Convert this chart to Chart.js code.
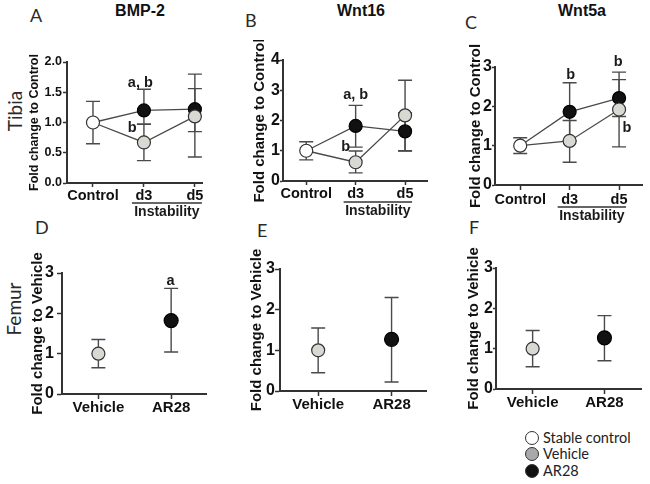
<!DOCTYPE html>
<html>
<head>
<meta charset="utf-8">
<script src="https://cdn.jsdelivr.net/npm/chart.js@4.4.1/dist/chart.umd.min.js"></script>
<style>
  body { margin: 0; width: 650px; height: 484px; background: #fff; position: relative; overflow: hidden; }
  canvas { position: absolute; }
  .t { position: absolute; white-space: nowrap; line-height: 1; color: #222; }
  .panel { font-family: Lato, sans-serif; font-size: 18px; color: #2a2a2a; }
  .gene { font-family: "Liberation Sans", Arial, sans-serif; font-weight: bold; font-size: 16px; transform: translateX(-50%); color: #111; }
  .side { font-family: Lato, sans-serif; font-size: 19px; color: #2a2a2a; transform: translate(-50%, -50%) rotate(-90deg); }
  .key { position: absolute; left: 525px; font-family: Lato, sans-serif; font-size: 14.5px; color: #222; line-height: 1; }
  .key i { display: inline-block; width: 12px; height: 12px; border-radius: 50%; border: 1px solid #333; vertical-align: -2px; margin-right: 4px; }
</style>
</head>
<body>

<div class="t panel" style="left:30px;top:6px">A</div>
<div class="t panel" style="left:245px;top:11px">B</div>
<div class="t panel" style="left:465px;top:13px">C</div>
<div class="t panel" style="left:35px;top:218px">D</div>
<div class="t panel" style="left:257px;top:221px">E</div>
<div class="t panel" style="left:469px;top:218px">F</div>

<div class="t gene" style="left:140px;top:3px">BMP-2</div>
<div class="t gene" style="left:361px;top:3px">Wnt16</div>
<div class="t gene" style="left:582px;top:3px">Wnt5a</div>

<div class="t side" style="left:14px;top:111px">Tibia</div>
<div class="t side" style="left:13px;top:309px">Femur</div>

<div class="key" style="top:431px"><i style="background:#fff"></i>Stable control</div>
<div class="key" style="top:447px"><i style="background:#a9a9a9"></i>Vehicle</div>
<div class="key" style="top:464px"><i style="background:#111"></i>AR28</div>

<script>
// categories
const tibiaGroups = ['Control', 'd3', 'd5'];
const femurGroups = ['Vehicle', 'AR28'];

// A: BMP-2, tibia (index 0 is the stable control, shared by both lines)
const bmpVehicle   = [1.00, 0.67, 1.10];
const bmpVehicleLo = [0.65, 0.37, 0.43];
const bmpVehicleHi = [1.35, 0.97, 1.56];
const bmpAR28      = [1.00, 1.20, 1.22];
const bmpAR28Lo    = [null, 0.97, 0.85];
const bmpAR28Hi    = [null, 1.55, 1.80];

// B: Wnt16, tibia
const w16Vehicle   = [1.00, 0.62, 2.17];
const w16VehicleLo = [0.70, 0.27, 0.99];
const w16VehicleHi = [1.30, 0.99, 3.33];
const w16AR28      = [1.00, 1.82, 1.64];
const w16AR28Lo    = [null, 1.12, 1.00];
const w16AR28Hi    = [null, 2.50, 2.25];

// C: Wnt5a, tibia
const w5aVehicle   = [1.00, 1.12, 1.92];
const w5aVehicleLo = [0.80, 0.58, 0.97];
const w5aVehicleHi = [1.20, 1.64, 2.87];
const w5aAR28      = [1.00, 1.86, 2.21];
const w5aAR28Lo    = [null, 1.12, 1.74];
const w5aAR28Hi    = [null, 2.60, 2.68];

// D-F: femur, [Vehicle, AR28]
const femBmp   = [1.00, 1.82];
const femBmpLo = [0.65, 1.04];
const femBmpHi = [1.35, 2.62];
const femW16   = [1.00, 1.27];
const femW16Lo = [0.45, 0.22];
const femW16Hi = [1.55, 2.30];
const femW5a   = [1.00, 1.27];
const femW5aLo = [0.55, 0.70];
const femW5aHi = [1.45, 1.82];

// significance letters, in data units
const bmpLetters = [{x: 0.93, y: 1.66, text: 'a, b'}, {x: 0.77, y: 0.91, text: 'b'}];
const w16Letters = [{x: 1.0, y: 2.84, text: 'a, b'}, {x: 0.8, y: 1.11, text: 'b'}];
const w5aLetters = [{x: 1.02, y: 2.8, text: 'b'}, {x: 1.98, y: 3.13, text: 'b'}, {x: 2.16, y: 1.46, text: 'b'}];
const femBmpLetters = [{x: 0.99, y: 2.8, text: 'a'}];

const GREY = '#d9d9d3', BLACK = '#111', EDGE = '#333', LINE = '#4a4a4a';
const FONT = '"Liberation Sans", Arial, sans-serif';

const pts = arr => arr.map((v, i) => ({x: i, y: v}));

function tibiaSets(veh, vehLo, vehHi, ar, arLo, arHi) {
  return [
    { label: 'Stable control', data: [{x: 0, y: veh[0]}], errLo: [vehLo[0]], errHi: [vehHi[0]],
      showLine: false, pointRadius: 6.5, pointBackgroundColor: '#fff', pointBorderColor: EDGE, pointBorderWidth: 1.2 },
    { label: 'Vehicle', data: pts(veh), errLo: [null, ...vehLo.slice(1)], errHi: [null, ...vehHi.slice(1)],
      borderColor: LINE, borderWidth: 1.3, tension: 0, pointRadius: [0, 6.5, 6.5],
      pointBackgroundColor: GREY, pointBorderColor: EDGE, pointBorderWidth: 1.2 },
    { label: 'AR28', data: pts(ar), errLo: arLo, errHi: arHi,
      borderColor: LINE, borderWidth: 1.3, tension: 0, pointRadius: [0, 6.5, 6.5],
      pointBackgroundColor: BLACK, pointBorderColor: '#000', pointBorderWidth: 1.2 }
  ];
}

function femurSets(vals, lo, hi) {
  return [
    { label: 'Vehicle', data: [{x: 0, y: vals[0]}], errLo: [lo[0]], errHi: [hi[0]], showLine: false,
      pointRadius: 6.5, pointBackgroundColor: GREY, pointBorderColor: EDGE, pointBorderWidth: 1.2 },
    { label: 'AR28', data: [{x: 1, y: vals[1]}], errLo: [lo[1]], errHi: [hi[1]], showLine: false,
      pointRadius: 7, pointBackgroundColor: BLACK, pointBorderColor: '#000', pointBorderWidth: 1.2 }
  ];
}

function marks(p) {
  return {
    id: 'marks',
    beforeDatasetsDraw(chart) {
      const {ctx, scales: {x, y}} = chart;
      ctx.save();
      ctx.strokeStyle = LINE;
      ctx.lineWidth = 1.4;
      chart.data.datasets.forEach(ds => {
        ds.data.forEach((pt, i) => {
          if (ds.errLo[i] == null) return;
          const px = x.getPixelForValue(pt.x);
          const y1 = y.getPixelForValue(ds.errLo[i]);
          const y2 = y.getPixelForValue(ds.errHi[i]);
          ctx.beginPath();
          ctx.moveTo(px, y1); ctx.lineTo(px, y2);
          ctx.moveTo(px - 7, y1); ctx.lineTo(px + 7, y1);
          ctx.moveTo(px - 7, y2); ctx.lineTo(px + 7, y2);
          ctx.stroke();
        });
      });
      ctx.restore();
    },
    afterDraw(chart) {
      const {ctx, scales: {x, y}, chartArea} = chart;
      ctx.save();
      ctx.fillStyle = '#1a1a1a';
      ctx.textAlign = 'center';
      ctx.textBaseline = 'middle';
      ctx.font = 'bold 14.5px ' + FONT;
      (p.letters || []).forEach(l => {
        ctx.fillText(l.text, x.getPixelForValue(l.x), y.getPixelForValue(l.y));
      });
      if (p.instability) {
        const x1 = x.getPixelForValue(1) - 12, x2 = x.getPixelForValue(2) + 7;
        const yl = chartArea.bottom + p.underline;
        ctx.strokeStyle = '#333';
        ctx.lineWidth = 1.5;
        ctx.beginPath(); ctx.moveTo(x1, yl); ctx.lineTo(x2, yl); ctx.stroke();
        ctx.font = 'bold 14px ' + FONT;
        ctx.fillText('Instability', (x1 + x2) / 2, yl + 9);
      }
      ctx.restore();
    }
  };
}

function panel(p) {
  const c = document.createElement('canvas');
  const [cl, ct, cw, ch] = p.box;
  const [L, T, R, B] = p.area;
  c.width = cw; c.height = ch;
  c.style.left = cl + 'px'; c.style.top = ct + 'px';
  document.body.appendChild(c);
  const padLeft = p.titleX - 0.6 * p.titleSize - cl;
  new Chart(c, {
    type: 'line',
    data: { datasets: p.datasets },
    options: {
      responsive: false,
      animation: false,
      events: [],
      layout: { padding: { left: padLeft, top: T - ct, right: cl + cw - R, bottom: 0 } },
      plugins: { legend: { display: false }, tooltip: { enabled: false } },
      scales: {
        x: {
          type: 'linear', min: p.xRange[0], max: p.xRange[1],
          afterBuildTicks: s => { s.ticks = p.groups.map((g, i) => ({value: i})); },
          afterFit: s => { s.height = ct + ch - B; },
          ticks: { callback: v => p.groups[v], color: '#111', padding: p.xPad, maxRotation: 0, autoSkip: false,
                   font: { family: FONT, weight: 'bold', size: p.xSize } },
          grid: { drawOnChartArea: false, tickLength: p.xTick, color: EDGE, tickWidth: 1.5 },
          border: { color: EDGE, width: 2 }
        },
        y: {
          min: 0, max: p.yMax,
          afterFit: s => { s.width = L - cl - padLeft; },
          ticks: { stepSize: p.yStep, callback: v => v.toFixed(p.dec), color: '#111', padding: p.yPad,
                   font: { family: FONT, weight: 'bold', size: p.tickSize } },
          title: { display: true, text: p.title, color: '#111', padding: 0,
                   font: { family: FONT, weight: 'bold', size: p.titleSize } },
          grid: { drawOnChartArea: false, tickLength: p.yTick, color: EDGE, tickWidth: 1.5 },
          border: { color: EDGE, width: 2 }
        }
      }
    },
    plugins: [marks(p)]
  });
}

const ctrlTitle = 'Fold change to Control';
const vehTitle = 'Fold change to Vehicle';

panel({ box: [0, 40, 215, 185], area: [67, 62, 202, 183], titleX: 35, titleSize: 12.5, title: ctrlTitle,
  groups: tibiaGroups, xRange: [-0.51, 2.14], yMax: 2, yStep: 0.5, dec: 1, tickSize: 12.5, yTick: 4, yPad: 1,
  xSize: 14.5, xTick: 4, xPad: 0, instability: true, underline: 20, letters: bmpLetters,
  datasets: tibiaSets(bmpVehicle, bmpVehicleLo, bmpVehicleHi, bmpAR28, bmpAR28Lo, bmpAR28Hi) });

panel({ box: [215, 40, 220, 185], area: [283, 60, 432, 181], titleX: 260, titleSize: 15, title: ctrlTitle,
  groups: tibiaGroups, xRange: [-0.47, 2.45], yMax: 4, yStep: 1, dec: 0, tickSize: 16, yTick: 3, yPad: 0,
  xSize: 14.5, xTick: 4, xPad: 0, instability: true, underline: 21, letters: w16Letters,
  datasets: tibiaSets(w16Vehicle, w16VehicleLo, w16VehicleHi, w16AR28, w16AR28Lo, w16AR28Hi) });

panel({ box: [435, 40, 215, 185], area: [495, 67, 647, 185], titleX: 476, titleSize: 15, title: ctrlTitle,
  groups: tibiaGroups, xRange: [-0.51, 2.47], yMax: 3, yStep: 1, dec: 0, tickSize: 16, yTick: 3, yPad: 0,
  xSize: 14.5, xTick: 5, xPad: 1, instability: true, underline: 22, letters: w5aLetters,
  datasets: tibiaSets(w5aVehicle, w5aVehicleLo, w5aVehicleHi, w5aAR28, w5aAR28Lo, w5aAR28Hi) });

panel({ box: [0, 240, 215, 190], area: [62, 273, 213, 394], titleX: 38, titleSize: 15, title: vehTitle,
  groups: femurGroups, xRange: [-0.5, 1.49], yMax: 3, yStep: 1, dec: 0, tickSize: 16, yTick: 5, yPad: 3,
  xSize: 15, xTick: 5, xPad: 0, letters: femBmpLetters,
  datasets: femurSets(femBmp, femBmpLo, femBmpHi) });

panel({ box: [215, 240, 220, 190], area: [280, 269, 430, 391], titleX: 257, titleSize: 15, title: vehTitle,
  groups: femurGroups, xRange: [-0.52, 1.48], yMax: 3, yStep: 1, dec: 0, tickSize: 16, yTick: 5, yPad: 0,
  xSize: 15, xTick: 5, xPad: 0,
  datasets: femurSets(femW16, femW16Lo, femW16Hi) });

panel({ box: [435, 240, 215, 190], area: [496, 268, 648, 389], titleX: 474, titleSize: 15, title: vehTitle,
  groups: femurGroups, xRange: [-0.51, 1.52], yMax: 3, yStep: 1, dec: 0, tickSize: 16, yTick: 3, yPad: 0,
  xSize: 15, xTick: 5, xPad: 0,
  datasets: femurSets(femW5a, femW5aLo, femW5aHi) });
</script>
</body>
</html>
